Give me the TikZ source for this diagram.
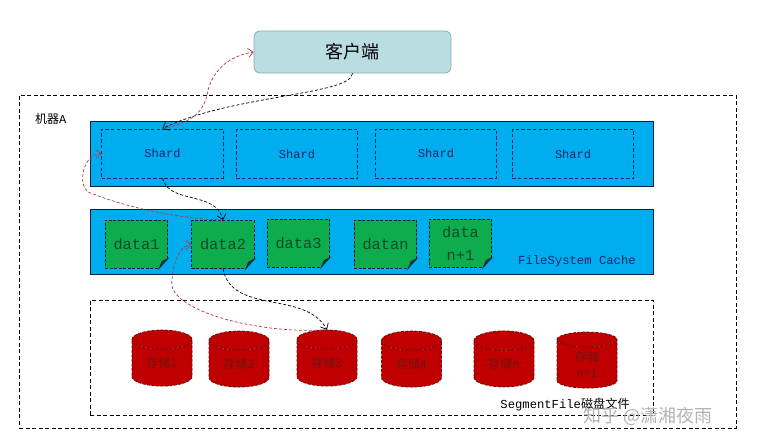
\documentclass[tikz,border=0pt]{standalone}
\usepackage{fontspec}
\setmainfont{Liberation Mono}
\newfontfamily\cjk{Noto Sans CJK SC}
\usepackage{tikz}
\usetikzlibrary{arrows.meta,calc,shapes.geometric}
\definecolor{clientfill}{HTML}{B9DDE1}
\definecolor{clientline}{HTML}{8DA9AE}
\definecolor{bandblue}{HTML}{00AEEF}
\definecolor{bandline}{HTML}{0A1F44}
\definecolor{shardink}{HTML}{16246B}
\definecolor{notegreen}{HTML}{0DAC4C}
\definecolor{noteink}{HTML}{0B4A2A}
\definecolor{diskred}{HTML}{C00000}
\definecolor{diskline}{HTML}{6E0A0A}
\definecolor{diskink}{HTML}{6E1414}
\definecolor{backred}{HTML}{B03A48}
\tikzset{
  dashbox/.style={draw,dashed,dash pattern=on 4pt off 2.5pt,line width=.7pt},
  band/.style={draw=bandline,fill=bandblue,line width=.8pt,minimum width=563,minimum height=65,inner sep=0},
  shardbox/.style={draw=shardink,dash pattern=on 3.5pt off 2.2pt,line width=.7pt,text=shardink,minimum width=121.5,minimum height=49,inner sep=0,font=\fontsize{12}{12}\selectfont},
  notebox/.style={draw=bandline,fill=notegreen,dash pattern=on 3pt off 1.5pt,line width=.8pt,text=noteink,minimum width=62.5,minimum height=48,inner sep=0,align=center,font=\fontsize{15.3}{23}\selectfont},
  diskbox/.style={cylinder,shape border rotate=90,aspect=.62,cylinder uses custom fill,cylinder body fill=diskred,cylinder end fill=diskred,draw=diskline,dash pattern=on 3pt off 1.5pt,line width=.8pt,text=diskink,minimum width=60,minimum height=56,inner sep=0,align=center,font=\cjk\fontsize{12}{16}\selectfont},
  fwd/.style={densely dashed,line width=.7pt,-{Straight Barb[length=5pt,width=9pt]}},
  back/.style={fwd,draw=backred},
}
\begin{document}
\begin{tikzpicture}[x=1pt,y=-1pt]
\useasboundingbox(0,0)rectangle(764,447);
\node[dashbox,minimum width=717,minimum height=333,inner sep=0](machine)at(377.5,261.5){};
\node[anchor=west,inner sep=0,font=\fontsize{12}{12}\selectfont](machinelbl)at(35,119){{\cjk 机器}A};
\node[draw=clientline,fill=clientfill,rounded corners=6,line width=.7pt,minimum width=197,minimum height=42,inner sep=0,font=\cjk\fontsize{18}{18}\selectfont](client)at(352.5,52){客户端};
\node[band](shardband)at(371.5,153.5){};
\node[shardbox](shard1)at(162.5,153.5){Shard};
\node[shardbox](shard2)at(297,154){Shard};
\node[shardbox](shard3)at(436,153.5){Shard};
\node[shardbox](shard4)at(573,154){Shard};
\node[band](cacheband)at(371.5,242){};
\node[anchor=east,inner sep=0,text=shardink,font=\fontsize{12.25}{12}\selectfont](cachelbl)at(636,261){FileSystem Cache};
\foreach \name/\x/\y/\txt in {data1/136.5/244/data1,data2/223/244.5/data2,data3/298.5/243/data3,datan/385.5/244/datan,datam/460.5/243/{data\\n+1}}{
  \node[notebox](\name)at(\x,\y){\txt};
  \fill[bandblue]($(\name.south east)+(1,1)$)--($(\name.south east)+(1,-10)$)--($(\name.south east)+(-10,1)$)--cycle;
  \filldraw[draw=bandline,fill=bandline!75!notegreen,line width=.6pt]($(\name.south east)+(0,-10)$)--($(\name.south east)+(-9,0)$)--($(\name.south east)+(-6,-7)$)--cycle;
}
\node[dashbox,minimum width=563,minimum height=115,inner sep=0](segment)at(371.5,357.5){};
\foreach \name/\x/\y/\txt in {disk1/162/363/存储1,disk2/239/364/存储2,disk3/327/363/存储3,disk4/411.5/364/存储4,diskn/504/364/存储n,diskm/587/364/{存储\\n+1}}{
  \node[diskbox](\name)at(\x,\y){\txt};
}
\node[anchor=east,inner sep=0,font=\fontsize{12.2}{12}\selectfont](segmentlbl)at(630,405){SegmentFile{\cjk 磁盘文件}};
\node[anchor=west,inner sep=0,text=black!30,font=\cjk\fontsize{18}{18}\selectfont](mark)at(583,416){知乎 @潇湘夜雨};
% requests
\draw[fwd](client.south).. controls (352,95) and (230,95) .. (shard1.north);
\draw[fwd](shard1.south).. controls (170,205) and (215,190) .. (data2.north);
\draw[fwd](data2.south).. controls (232,315) and (305,290) .. (disk3.north);
% replies
\draw[back](disk3.north).. controls (260,335) and (165,310) .. (172,280) .. controls (173,262) and (180,245) .. (data2.west);
\draw[back](data2.north).. controls (170,218) and (120,205) .. (88,192) .. controls (78,185) and (82,155) .. (shard1.west);
\draw[back](shard1.north).. controls (195,122) and (205,110) .. (208,90) .. controls (215,65) and (235,55) .. (client.west);
\end{tikzpicture}
\end{document}
